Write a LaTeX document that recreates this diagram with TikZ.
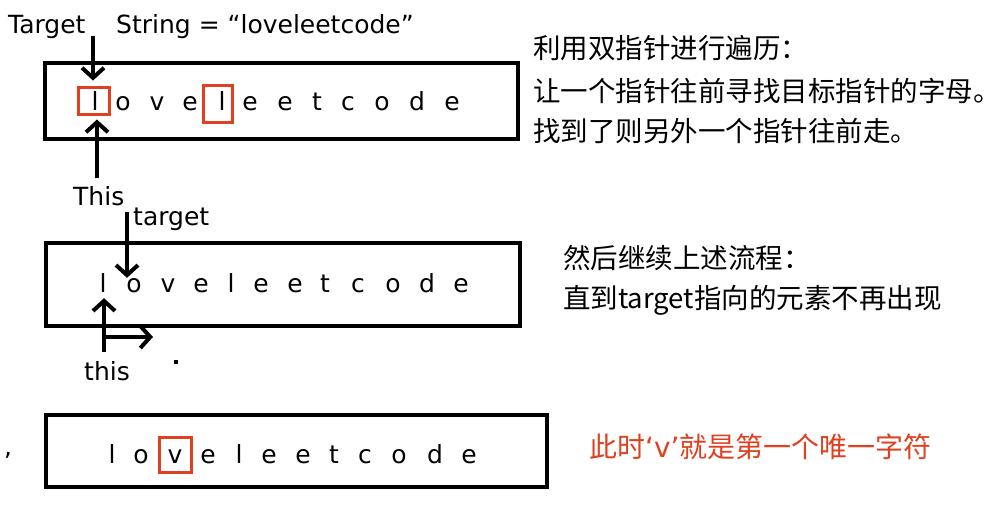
\documentclass[tikz,border=0pt]{standalone}
\usepackage{fontspec}
\setmainfont{DejaVu Sans}
\newfontfamily\cjk{Noto Sans CJK SC}
\usepackage{tikz}
\usetikzlibrary{positioning,arrows.meta}
\definecolor{hlred}{RGB}{224,64,32}

\begin{document}
\begin{tikzpicture}[x=1pt, y=-1pt,
    strbox/.style={draw, line width=4pt, inner sep=0pt},
    ch/.style={inner sep=0pt, anchor=base, font=\fontsize{25}{30}\selectfont},
    lbl/.style={inner sep=0pt, anchor=base west, font=\fontsize{25}{30}\selectfont},
    hl/.style={draw=hlred, line width=3pt, inner sep=0pt},
    ptr/.style={line width=4pt, -{Straight Barb[length=10pt, width=22pt]}},
    note/.style={inner sep=0pt, anchor=west, font=\cjk\fontsize{27.5}{30}\selectfont}]
    \useasboundingbox (0,0) rectangle (1000,507);

    %% first pass
    \node[lbl] (tgtA) at (8,33) {Target};
    \node[lbl] (str) at (116,33) {String = “loveleetcode”};
    \node[strbox, minimum width=473, minimum height=76] (boxA) at (281.5,101) {};
    \foreach \c/\x [count=\i] in {l/95,o/123,v/157,e/190,l/222,e/250,e/285,t/317,c/348,o/382,d/417,e/452}
        \node[ch] (a\i) at (\x,110) {\c};
    \node[hl, minimum width=31, minimum height=27] (hlA) at (93.5,100.5) {};
    \node[hl, minimum width=29, minimum height=37] (hlAB) at (217.5,103.5) {};
    \node[lbl] (thisA) at (73,205) {This};
    \coordinate (tailTgtA) at (93,36);
    \coordinate (tailThisA) at (97,178);
    \draw[ptr, shorten >=5pt] (tailTgtA) -- (tailTgtA |- hlA.north);
    \draw[ptr, shorten >=4pt] (tailThisA) -- (tailThisA |- hlA.south);

    \node[note] (stepA) at (533,48) {利用双指针进行遍历：};
    \node[note] (stepB) at (533,91) {让一个指针往前寻找目标指针的字母。};
    \node[note] (stepC) at (533,131) {找到了则另外一个指针往前走。};

    %% second pass
    \node[lbl] (tgtB) at (133,225) {target};
    \node[strbox, minimum width=474, minimum height=83] (boxB) at (283,284.5) {};
    \foreach \c/\x [count=\i] in {l/103,o/134,v/168,e/201,l/231,e/261,e/295,t/325,c/358,o/393,d/427,e/461}
        \node[ch] (b\i) at (\x,292) {\c};
    \node[lbl] (thisB) at (84,380) {this};
    \coordinate (tailTgtB) at (127,212);
    \coordinate (tailThisB) at (104,352);
    \coordinate (bendB) at (104,337);
    \coordinate (headB) at (153,337);
    \draw[ptr] (tailTgtB) -- (tailTgtB |- b2.north);
    \draw[ptr, shorten >=6pt] (tailThisB) -- (tailThisB |- b1.south);
    \draw[ptr] (bendB) -- (headB);
    \fill (174,360) rectangle (178,364);

    \node[note] (stepD) at (563,258) {然后继续上述流程：};
    \node[note] (stepE) at (563,300) {直到target指向的元素不再出现};

    %% result
    \node[lbl] (comma) at (4,455) {,};
    \node[strbox, minimum width=501, minimum height=72] (boxC) at (296.5,451) {};
    \foreach \c/\x [count=\i] in {l/112,o/141,v/175,e/208,l/239,e/269,e/303,t/334,c/365,o/399,d/435,e/469}
        \node[ch] (c\i) at (\x,463) {\c};
    \node[hl, minimum width=32, minimum height=35] (hlC) at (175,454.5) {};
    \node[note, text=hlred, font=\fontsize{28}{30}\selectfont] (answer) at (589,447)
        {{\cjk 此时}‘v’{\cjk 就是第一个唯一字符}};
\end{tikzpicture}
\end{document}
